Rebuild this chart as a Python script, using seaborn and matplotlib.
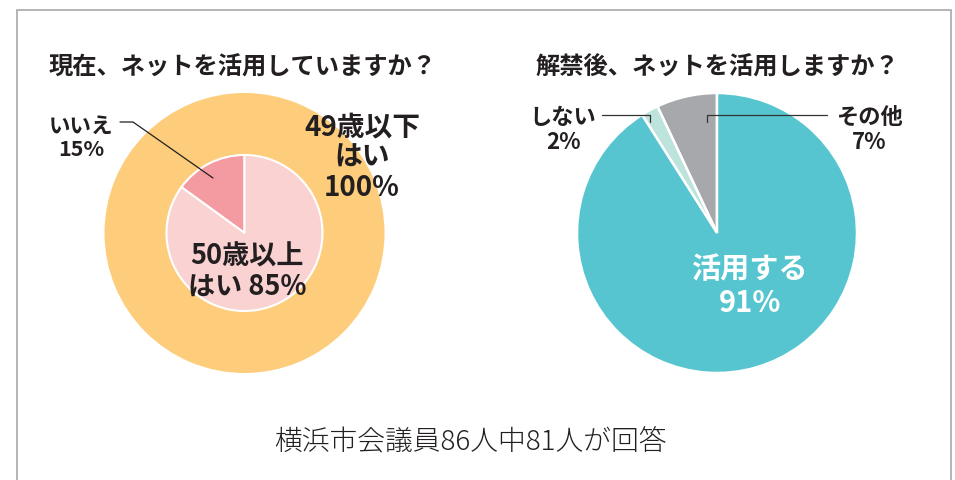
import matplotlib
matplotlib.use("Agg")
import matplotlib.pyplot as plt
import seaborn as sns

sns.set_theme(style="white")
plt.rcParams['font.family'] = ['Noto Sans CJK JP', 'DejaVu Sans']

# ---- data ----
left_title = "現在、ネットを活用していますか？"
right_title = "解禁後、ネットを活用しますか？"
footnote = "横浜市会議員86人中81人が回答"

outer_labels = ["49歳以下\nはい\n100%"]
outer_values = [100]
inner_labels = ["いいえ\n15%", "50歳以上\nはい 85%"]
inner_values = [15, 85]

right_labels = ["その他\n7%", "しない\n2%", "活用する\n91%"]
right_values = [7, 2, 91]

# ---- style ----
W, H = 955, 480
TXT = "#231f20"
c_outer = "#fecd7c"
c_inner = ["#f49aa1", "#fad2d2"]
c_right = ["#a6a8ab", "#bde3dd", "#56c5cf"]

def Y(y):
    return H - y

fig = plt.figure(figsize=(W / 100, H / 100), dpi=100)
ax = fig.add_axes([0, 0, 1, 1])
ax.set_xlim(0, W)
ax.set_ylim(0, H)
ax.set_aspect("equal")
ax.axis("off")

# border
bc = "#a8a8a8"
ax.plot([16.5, 16.5, 950.5, 950.5], [0, Y(9.5), Y(9.5), 0], color=bc, lw=1.2, solid_joinstyle="miter")

# left chart
lc = (244.5, Y(233))
ax.pie(outer_values, colors=[c_outer], radius=140, center=lc, startangle=90,
       wedgeprops=dict(linewidth=0))
ax.pie(inner_values, colors=c_inner, radius=78, center=lc, startangle=90, counterclock=True,
       wedgeprops=dict(edgecolor="white", linewidth=1.5))

# right chart
rc = (717, Y(233))
ax.pie(right_values, colors=c_right, radius=140, center=rc, startangle=90, counterclock=True,
       wedgeprops=dict(edgecolor="white", linewidth=1.8))

ax.set_xlim(0, W)
ax.set_ylim(0, H)

# titles
ax.text(243, Y(68), left_title, ha="center", va="center", fontsize=17.5, fontweight="bold", color=TXT)
ax.text(717, Y(68), right_title, ha="center", va="center", fontsize=17.5, fontweight="bold", color=TXT)

# labels
ax.text(362, Y(158), outer_labels[0], ha="center", va="center", fontsize=20,
        fontweight="bold", color=TXT, linespacing=1.1)
ax.text(81, Y(138), inner_labels[0], ha="center", va="center", fontsize=15.5,
        fontweight="bold", color=TXT, linespacing=1.15)
ax.text(247, Y(272), inner_labels[1], ha="center", va="center", fontsize=19.5,
        fontweight="bold", color=TXT, linespacing=1.1)
ax.plot([120, 133, 213], [Y(122), Y(122), Y(178)], color=TXT, lw=0.9)

ax.text(869, Y(130), right_labels[0], ha="center", va="center", fontsize=16,
        fontweight="bold", color=TXT, linespacing=1.15)
ax.text(563, Y(130), right_labels[1], ha="center", va="center", fontsize=16,
        fontweight="bold", color=TXT, linespacing=1.15)
ax.text(750, Y(286), right_labels[2], ha="center", va="center", fontsize=21,
        fontweight="bold", color="white", linespacing=1.15)
ax.plot([602, 650, 650], [Y(115), Y(115), Y(122)], color="#333333", lw=0.9)
ax.plot([827, 707, 707], [Y(115), Y(115), Y(122)], color="#333333", lw=0.9)

# footnote
ax.text(470, Y(442), footnote, ha="center", va="center", fontsize=20,
        fontweight="light", color=TXT)

fig.savefig("out.png", dpi=100)
